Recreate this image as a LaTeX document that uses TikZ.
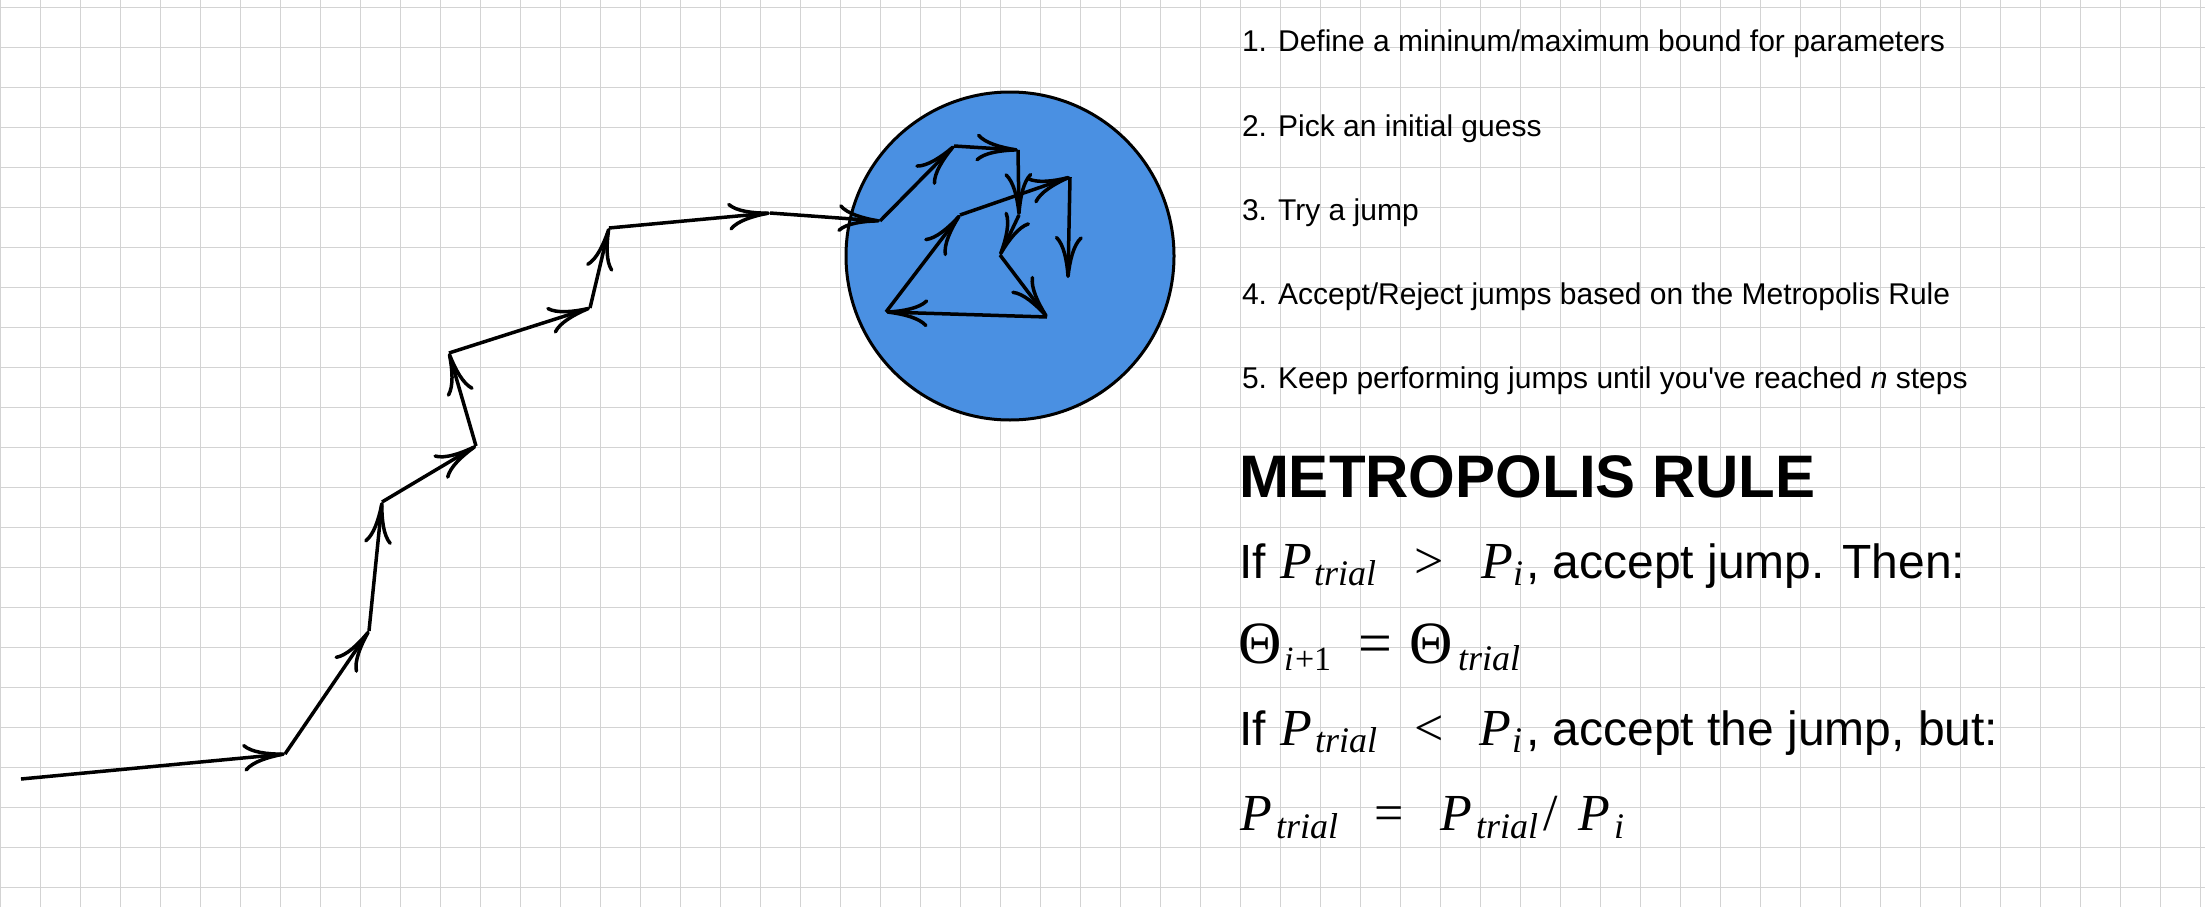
\documentclass[tikz,border=0pt]{standalone}
\usepackage{fontspec}
\setmainfont{Liberation Sans}[Ligatures=TeXOff]
\newfontfamily\mser{Liberation Serif}
\usetikzlibrary{arrows.meta}
\definecolor{blobblue}{HTML}{4A90E2}
\definecolor{gridgray}{RGB}{211,211,211}
\begin{document}
\begin{tikzpicture}[x=1pt,y=-1pt,
  gridline/.style={draw=gridgray,line width=1.1pt},
  seg/.style={line width=3.5pt,-{To[length=42pt,width=28pt]}},
  txt/.style={anchor=base west,inner sep=0pt,outer sep=0pt},
  stp/.style={txt,font=\fontsize{30}{33}\selectfont},
  ttl/.style={txt,font=\fontsize{60}{66}\selectfont\bfseries},
  sns/.style={txt,font=\fontsize{48}{52}\selectfont},
  mP/.style={txt,font=\fontsize{52}{56}\mser\itshape},
  mrel/.style={txt,font=\fontsize{52}{56}\mser},
  msub/.style={txt,font=\fontsize{36}{40}\mser\itshape},
  mth/.style={txt,font=\fontsize{60}{64}\mser},
  msubu/.style={txt,font=\fontsize{34}{38}\mser},
  msubi/.style={txt,font=\fontsize{34}{38}\mser\itshape}]
\fill[white] (0,0) rectangle (2205,907);
\useasboundingbox (0,0) rectangle (2205,907);
% grid
\foreach \i in {0,...,55} \draw[gridline] ({40*\i+0.7},0) -- ({40*\i+0.7},907);
\foreach \j in {0,...,22} \draw[gridline] (0,{40*\j+7.3}) -- (2205,{40*\j+7.3});
% circle
\node[circle,draw=black,fill=blobblue,line width=3pt,inner sep=0pt,minimum size=328pt] (blob) at (1010,256) {};
% walk
\coordinate (p0) at (21,779);
\coordinate (p1) at (285,754);
\coordinate (p2) at (369,631);
\coordinate (p3) at (382,502);
\coordinate (p4) at (476,446);
\coordinate (p5) at (449,353);
\coordinate (p6) at (590,308);
\coordinate (p7) at (609,228);
\coordinate (p8) at (770,213);
\coordinate (p9) at (880,221);
\coordinate (p10) at (954,146);
\coordinate (p11) at (1018,150);
\coordinate (p12) at (1019,215);
\coordinate (p13) at (1000,255);
\coordinate (p14) at (1047,317);
\coordinate (p15) at (886,312);
\coordinate (p16) at (960,215);
\coordinate (p17) at (1070,177);
\coordinate (p18) at (1068,278);
\foreach \a/\b in {p0/p1,p1/p2,p2/p3,p3/p4,p4/p5,p5/p6,p6/p7,p7/p8,p8/p9,p9/p10,p10/p11,p11/p12,p12/p13,p13/p14,p14/p15,p15/p16,p16/p17,p17/p18}
  \draw[seg] (\a) -- (\b);
% steps
\node[stp] (s1) at (1242,52) {1. Define a mininum/maximum bound for parameters};
\node[stp] (s2) at (1242,136) {2. Pick an initial guess};
\node[stp] (s3) at (1242,220) {3. Try a jump};
\node[stp] (s4) at (1242,304) {4. Accept/Reject jumps based on the Metropolis Rule};
\node[stp] (s5) at (1242,388) {5. Keep performing jumps until you've reached \textit{n} steps};
% rule
\node[ttl] (title) at (1239,497) {METROPOLIS RULE};
% line 1
\node[sns] (a1) at (1239,578) {If};
\node[mP] (a2) at (1280,578) {P};
\node[msub] (a3) at (1314,585) {trial};
\node[mrel] (a4) at (1414,578) {>};
\node[mP] (a5) at (1481,578) {P};
\node[msub] (a6) at (1513,585) {i};
\node[sns] (a7) at (1526,578) {, accept jump. Then:};
% line 2
\node[mth] (b1) at (1238,663) {Θ};
\node[msubi] (b2) at (1284,670) {i};
\node[msubu] (b3) at (1295,670) {+1};
\node[mth] (b4) at (1358,663) {=};
\node[mth] (b5) at (1409,663) {Θ};
\node[msub] (b6) at (1458,670) {trial};
% line 3
\node[sns] (c1) at (1239,745) {If};
\node[mP] (c2) at (1280,745) {P};
\node[msub] (c3) at (1315,752) {trial};
\node[mrel] (c4) at (1414,745) {<};
\node[mP] (c5) at (1479,745) {P};
\node[msub] (c6) at (1512,752) {i};
\node[sns] (c7) at (1526,745) {, accept the jump, but:};
% line 4
\node[mP] (d1) at (1240,830) {P};
\node[msub] (d2) at (1276,838) {trial};
\node[mrel] (d3) at (1374,830) {=};
\node[mP] (d4) at (1440,830) {P};
\node[msub] (d5) at (1476,838) {trial};
\node[mrel] (d6) at (1543,830) {/};
\node[mP] (d7) at (1578,830) {P};
\node[msub] (d8) at (1614,838) {i};
\end{tikzpicture}
\end{document}
